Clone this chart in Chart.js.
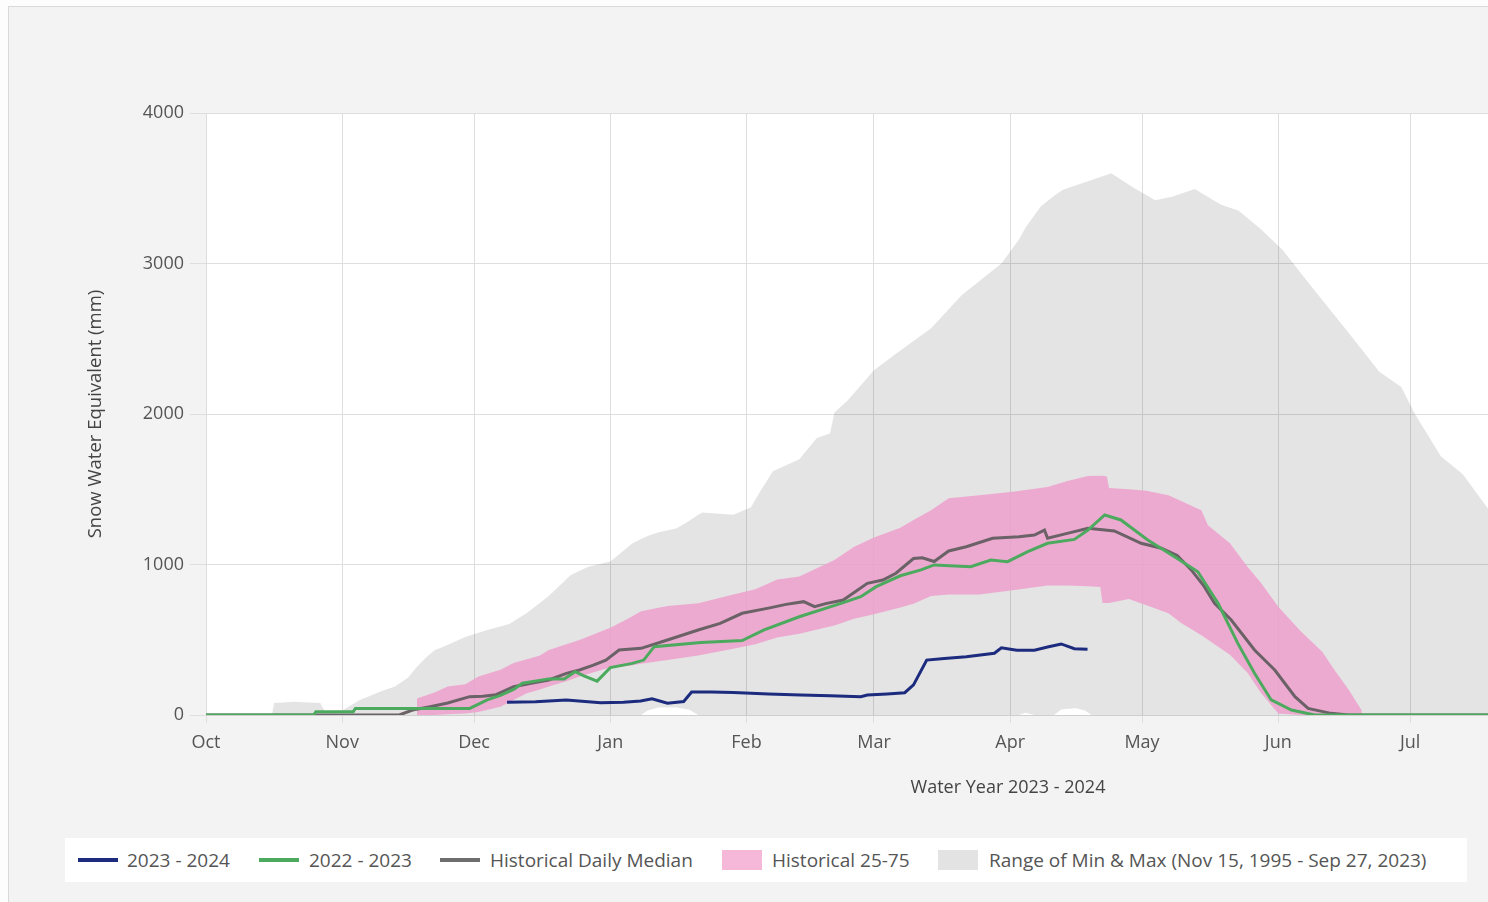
<!DOCTYPE html>
<html><head><meta charset="utf-8">
<script src="https://cdn.jsdelivr.net/npm/chart.js@4.4.1/dist/chart.umd.min.js"></script>
<style>
html,body{margin:0;padding:0;background:#fdfdfd;overflow:hidden;width:1488px;height:902px;}
#panel{position:absolute;left:8px;top:6px;width:1600px;height:1000px;border:1px solid #d9d9d9;background:#f3f3f3;}
#c{position:absolute;left:0;top:0;}
#legend{position:absolute;left:65px;top:838px;width:1402px;height:44px;background:#fff;font-family:"Open Sans",sans-serif;font-size:19px;color:#555;}
.sw{position:absolute;}
.lt{position:absolute;top:0;line-height:44px;white-space:nowrap;}
</style></head>
<body>
<div id="panel"></div>
<canvas id="c" width="1830" height="902" style="width:1830px;height:902px"></canvas>
<div id="legend">
  <div class="sw" style="left:13px;top:20px;width:40px;height:4px;background:#1c2b7e"></div>
  <div class="lt" style="left:62px">2023 - 2024</div>
  <div class="sw" style="left:194px;top:20px;width:40px;height:4px;background:#4caa5e"></div>
  <div class="lt" style="left:244px">2022 - 2023</div>
  <div class="sw" style="left:375px;top:20px;width:40px;height:4px;background:#6e6e6e"></div>
  <div class="lt" style="left:425px">Historical Daily Median</div>
  <div class="sw" style="left:657px;top:12px;width:40px;height:20px;background:#f5b8d9"></div>
  <div class="lt" style="left:707px">Historical 25-75</div>
  <div class="sw" style="left:873px;top:12px;width:40px;height:20px;background:#e3e3e3"></div>
  <div class="lt" style="left:924px">Range of Min &amp; Max (Nov 15, 1995 - Sep 27, 2023)</div>
</div>
<script>
// x values are days since Oct 1, 2023 (water year start)
const monthStartDays = [0,31,61,92,123,152,183,213,244,274,305,336];
const monthLabels = ["Oct","Nov","Dec","Jan","Feb","Mar","Apr","May","Jun","Jul","Aug","Sep"];
const yTicks = [0,1000,2000,3000,4000];

// Range of Min & Max
const rangeDays = [0,15,15.5,20,26,27,31,35,40,43,46,48,50,52,54,59,64,69,73,78,83,87,92,97,99,100.5,103,107,110,112,113,120,124,126,129,135,139,142,143,146,152,157,165,172,181,185,186.5,188.5,190,193,194.5,195,198,200,201.5,206,211,216,220,225,231,235,240,245,252,260,267,272,275,281,286,292,296];
const rangeMax = [0,0,80,88,80,27,30,100,160,190,250,320,380,430,454,518,565,605,678,790,930,985,1020,1140,1170,1190,1215,1240,1290,1330,1345,1330,1380,1480,1620,1700,1840,1870,2010,2090,2290,2400,2570,2790,3000,3160,3240,3320,3380,3450,3480,3490,3520,3540,3555,3600,3505,3420,3445,3495,3390,3350,3230,3090,2830,2540,2280,2180,2005,1720,1600,1360,1200];
const rangeMin = [0,0,0,0,0,0,0,0,0,0,0,0,0,0,0,0,0,0,0,0,0,0,0,0,0,30,50,50,35,0,0,0,0,0,0,0,0,0,0,0,0,0,0,0,0,0,15,0,0,0,35,38,45,30,0,0,0,0,0,0,0,0,0,0,0,0,0,0,0,0,0,0,0];

// Historical 25-75 percentile band
const pctDays = [48,52,55,59,62,67,70,73,76,78,82,85,89,92,96,99,105,112,120,125,130,135,143,147.5,152,158,161,165,169,176,184,191.5,196,200.7,203.5,204,205,205.5,210,214,219,222,226.5,228,233,237,240,244,249,254,257,260,263];
const pct75 = [110,150,190,205,255,300,345,370,395,432,470,498,545,580,640,690,725,742,800,835,900,920,1030,1118,1180,1245,1296,1360,1440,1460,1485,1515,1555,1588,1590,1590,1585,1508,1500,1490,1460,1420,1360,1260,1141,985,880,720,560,420,290,170,30];
const pct25 = [0,0,5,10,20,55,100,144,170,190,225,255,290,315,325,340,365,395,440,470,515,540,595,640,670,715,740,790,800,800,831,860,860,855,850,745,745,745,770,730,676,609,530,500,400,280,150,10,0,0,0,0,0];

// Historical daily median
const medDays = [0,44,47,51,55,60,63,66,70,74,78,82,85,88,91,94,99,105,112,117,122,128,132,136,138.5,141,145,150.5,154,157,161,163,165.7,169,173,179,185,188.5,190.8,191.5,196,200.7,206.7,212.8,217.4,221,224.2,227,229.5,233.3,238.6,243.2,247.8,250.8,256,260,365];
const medSWE = [0,0,33,55,80,122,125,135,188,211,233,277,299,330,365,432,443,498,565,609,676,710,735,753,720,740,764,875,897,942,1040,1045,1020,1090,1118,1174,1185,1196,1229,1174,1207,1241,1223,1141,1108,1060,964,860,742,631,432,299,122,44,11,0,0];

// 2022 - 2023
const grnDays = [0,24.5,25,33.5,34,60,64,67,70,72,78,81.5,84,86,89,92,97,99.6,102,112.6,122,127,135,144.5,149,152.5,158,162.7,165.7,174,178.6,182.4,187,191.5,197.6,200.7,204.5,208.2,214.3,220.4,225.7,230.3,234.8,238.6,242.4,247,252.3,365];
const grnSWE = [0,0,22,22,44,44,100,130,170,211,240,240,288,260,225,315,343,365,454,482,495,565,653,742,786,853,925,964,997,985,1030,1019,1085,1141,1167,1229,1329,1296,1163,1052,952,742,476,277,100,33,0,0];

// 2023 - 2024
const bluDays = [68.5,75,82,89.8,95,98.9,101.5,105,108.7,110.5,115,120,128,135.3,142,149,150.5,155,159,161,164,168,173,179.4,181,184.5,188.5,191.5,194.6,197.6,200.6];
const bluSWE = [84,88,100,82,85,93,108,78,90,152,152,150,140,133,128,122,133,140,148,200,365,375,387,410,447,430,430,452,472,440,437];

function pts(days, vals){ return days.map((d,i)=>({x:d,y:vals[i]})); }

const plotBg = {id:'plotBg', beforeDraw(chart){
  const {ctx, chartArea:a} = chart;
  ctx.save(); ctx.fillStyle = '#ffffff';
  ctx.fillRect(a.left, a.top, a.right-a.left, a.bottom-a.top);
  ctx.restore();
}};

const tickFont = {family:'Open Sans', size:18};
new Chart(document.getElementById('c'), {
  type:'line',
  data:{datasets:[
    {label:'2023 - 2024', data:pts(bluDays,bluSWE), borderColor:'#1c2b7e', borderWidth:3, fill:false},
    {label:'2022 - 2023', data:pts(grnDays,grnSWE), borderColor:'#4caa5e', borderWidth:3, fill:false},
    {label:'Historical Daily Median', data:pts(medDays,medSWE), borderColor:'#6a6266', borderWidth:3, fill:false},
    {label:'Historical 25-75', data:pts(pctDays,pct75), borderWidth:0, borderColor:'rgba(0,0,0,0)', backgroundColor:'rgba(238,160,205,0.85)', fill:'+1'},
    {label:'p25', data:pts(pctDays,pct25), borderWidth:0, borderColor:'rgba(0,0,0,0)', fill:false},
    {label:'Range of Min & Max (Nov 15, 1995 - Sep 27, 2023)', data:pts(rangeDays,rangeMax), borderWidth:0, borderColor:'rgba(0,0,0,0)', backgroundColor:'rgba(0,0,0,0.105)', fill:'+1'},
    {label:'min', data:pts(rangeDays,rangeMin), borderWidth:0, borderColor:'rgba(0,0,0,0)', fill:false}
  ]},
  options:{
    responsive:false, animation:false, devicePixelRatio:1,
    layout:{padding:{top:113,right:20,left:0,bottom:0}},
    plugins:{legend:{display:false}, tooltip:{enabled:false}},
    elements:{point:{radius:0}, line:{tension:0}},
    scales:{
      x:{type:'linear', min:0, max:365,
        afterBuildTicks:s=>{ s.ticks = monthStartDays.map(v=>({value:v})); },
        afterFit:s=>{ s.height = 187; },
        ticks:{autoSkip:false, maxRotation:0, padding:9, color:'#555', font:tickFont,
               callback:v=>monthLabels[monthStartDays.indexOf(v)]},
        grid:{color:'#dedede', tickLength:8},
        border:{color:'#cfcfcf'},
        title:{display:true, text:'Water Year 2023 - 2024', color:'#444', font:tickFont, padding:{top:0,bottom:103}}
      },
      y:{min:0, max:4000,
        afterBuildTicks:s=>{ s.ticks = yTicks.map(v=>({value:v})); },
        afterFit:s=>{ s.width = 206; },
        ticks:{padding:6, color:'#555', font:tickFont, callback:v=>String(v)},
        grid:{color:'#dedede', tickLength:16},
        border:{display:false},
        title:{display:true, text:'Snow Water Equivalent (mm)', color:'#444', font:{family:'Open Sans', size:18.5}, padding:{top:85,bottom:0}}
      }
    }
  },
  plugins:[plotBg]
});
</script>
</body></html>
